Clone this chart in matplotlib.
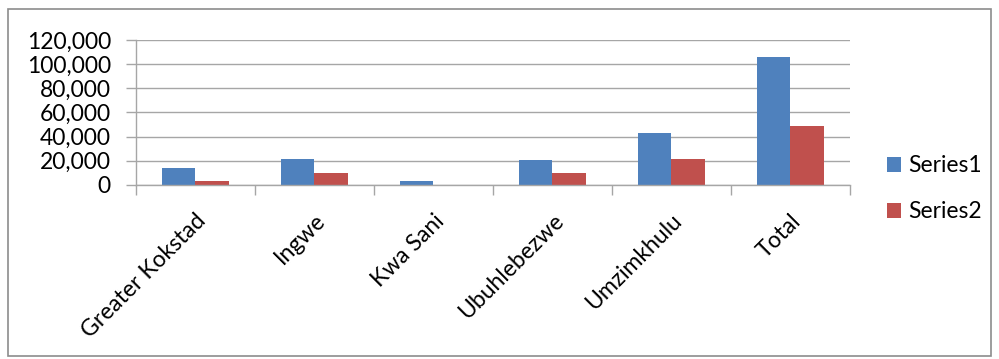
import matplotlib
matplotlib.use("Agg")
import matplotlib.pyplot as plt
import numpy as np
from matplotlib.ticker import FuncFormatter, FixedLocator
from matplotlib.patches import Rectangle

categories = ["Greater Kokstad", "Ingwe", "Kwa Sani", "Ubuhlebezwe", "Umzimkhulu", "Total"]
series1 = [13800, 21500, 3000, 20500, 43300, 105600]
series2 = [3600, 10200, 0, 10200, 21500, 48800]
series_names = ["Series1", "Series2"]
colors = ["#4F81BD", "#C0504D"]

plt.rcParams["font.family"] = ["Lato", "DejaVu Sans"]
FS = 16.5

fig = plt.figure(figsize=(9.99, 3.59), dpi=100)
fig.patch.set_facecolor("white")

# outer chart frame
fig.patches.append(Rectangle((0.008, 0.008), 0.984, 0.967, transform=fig.transFigure,
                             fill=False, edgecolor="#8c8c8c", linewidth=1.2))

ax = fig.add_axes([0.1361, 0.4847, 0.7147, 0.4039])

x = np.arange(len(categories))
w = 0.285
b1 = ax.bar(x - w / 2, series1, width=w, color=colors[0], label=series_names[0])
b2 = ax.bar(x + w / 2, series2, width=w, color=colors[1], label=series_names[1])

ax.set_xlim(-0.5, len(categories) - 0.5)
ax.set_ylim(0, 120000)
ax.set_yticks(np.arange(0, 120001, 20000))
ax.yaxis.set_major_formatter(FuncFormatter(lambda v, p: f"{int(v):,}"))
ax.grid(axis="y", color="#a6a6a6", linewidth=1.0)
ax.set_axisbelow(True)

# category labels at centers, tick marks at boundaries
ax.set_xticks(x)
ax.set_xticklabels(categories, rotation=45, ha="right", rotation_mode="anchor", fontsize=FS)
ax.tick_params(axis="x", which="major", length=0, pad=18)
ax.xaxis.set_minor_locator(FixedLocator(np.arange(-0.5, len(categories), 1.0)))
ax.tick_params(axis="x", which="minor", length=7, color="#a6a6a6", width=1.0)
ax.tick_params(axis="y", length=7, color="#a6a6a6", width=1.0, labelsize=FS, pad=11)

for s in ["top", "right"]:
    ax.spines[s].set_visible(False)
for s in ["left", "bottom"]:
    ax.spines[s].set_color("#a6a6a6")
    ax.spines[s].set_linewidth(1.0)

leg = fig.legend(handles=[b1, b2], labels=series_names, loc="center left",
                 bbox_to_anchor=(0.888, 0.474), frameon=False, fontsize=FS,
                 handlelength=0.62, handleheight=0.62, handletextpad=0.3,
                 labelspacing=1.1, borderpad=0, borderaxespad=0)

fig.savefig("out.png", dpi=100, facecolor="white")
